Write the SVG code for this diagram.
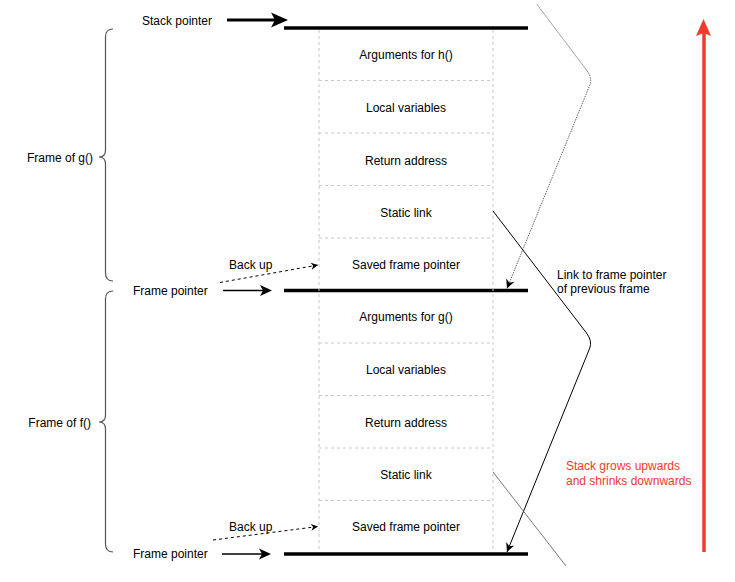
<svg xmlns="http://www.w3.org/2000/svg" width="735" height="582" viewBox="0 0 735 582">
<style>
  text { font-family: "Liberation Sans", Arial, sans-serif; font-size: 12px; fill: #000; }
  .c { text-anchor: middle; }
  .red { fill: #f23a2e; }
  .cell { fill: none; stroke: #c8c8c8; stroke-width: 1; stroke-dasharray: 3 3; }
  .bar { stroke: #000; stroke-width: 3.5; }
  .brace { fill: none; stroke: #555; stroke-width: 1.2; }
</style>
<defs>
  <marker id="ah" viewBox="0 0 10 10" refX="10" refY="5" markerUnits="userSpaceOnUse" markerWidth="10" markerHeight="9" orient="auto">
    <path d="M0,0 L10,5 L0,10 L3,5 z" fill="#000"/>
  </marker>
  <marker id="ahs" viewBox="0 0 10 10" refX="10" refY="5" markerUnits="userSpaceOnUse" markerWidth="8" markerHeight="7" orient="auto">
    <path d="M0,0 L10,5 L0,10 L3,5 z" fill="#000"/>
  </marker>
</defs>

<rect width="735" height="582" fill="#fff"/>

<g id="stack">
  <line class="bar" x1="284" y1="28" x2="528" y2="28"/>
  <line class="bar" x1="284" y1="290.5" x2="528" y2="290.5"/>
  <line class="bar" x1="284" y1="554" x2="528" y2="554"/>
  <line class="cell" x1="319" y1="30" x2="319" y2="552"/>
  <line class="cell" x1="493" y1="30" x2="493" y2="552"/>
  <line class="cell" x1="319" y1="80.5" x2="493" y2="80.5"/>
  <line class="cell" x1="319" y1="133" x2="493" y2="133"/>
  <line class="cell" x1="319" y1="185.5" x2="493" y2="185.5"/>
  <line class="cell" x1="319" y1="238" x2="493" y2="238"/>
  <line class="cell" x1="319" y1="343" x2="493" y2="343"/>
  <line class="cell" x1="319" y1="395.5" x2="493" y2="395.5"/>
  <line class="cell" x1="319" y1="448" x2="493" y2="448"/>
  <line class="cell" x1="319" y1="500.5" x2="493" y2="500.5"/>
</g>

<g id="cell-args-h"><text class="c" x="406" y="59">Arguments for h()</text></g>
<g id="cell-locals-g"><text class="c" x="406" y="112">Local variables</text></g>
<g id="cell-ret-g"><text class="c" x="406" y="164.5">Return address</text></g>
<g id="cell-static-g"><text class="c" x="406" y="216.5">Static link</text></g>
<g id="cell-saved-g"><text class="c" x="406" y="269">Saved frame pointer</text></g>
<g id="cell-args-g"><text class="c" x="406" y="321">Arguments for g()</text></g>
<g id="cell-locals-f"><text class="c" x="406" y="374">Local variables</text></g>
<g id="cell-ret-f"><text class="c" x="406" y="426.5">Return address</text></g>
<g id="cell-static-f"><text class="c" x="406" y="478.5">Static link</text></g>
<g id="cell-saved-f"><text class="c" x="406" y="531">Saved frame pointer</text></g>

<g id="frame-g">
  <path class="brace" d="M113 29 Q105.5 29 105.5 37 L105.5 150 Q105.5 157 99 157 Q105.5 157 105.5 164 L105.5 273 Q105.5 281 113 281"/>
  <text x="93" y="161.5" text-anchor="end">Frame of g()</text>
</g>
<g id="frame-f">
  <path class="brace" d="M113 291 Q105.5 291 105.5 299 L105.5 415 Q105.5 422 99 422 Q105.5 422 105.5 429 L105.5 544 Q105.5 552 113 552"/>
  <text x="91" y="426.5" text-anchor="end">Frame of f()</text>
</g>

<g id="label-sp"><text x="142" y="24.5">Stack pointer</text></g>
<g id="label-fp1"><text x="133" y="295">Frame pointer</text></g>
<g id="label-fp2"><text x="133" y="557.5">Frame pointer</text></g>
<g id="label-backup1"><text x="229" y="269">Back up</text></g>
<g id="label-backup2"><text x="229" y="531">Back up</text></g>
<g id="label-link">
  <text x="557" y="278.5">Link to frame pointer</text>
  <text x="557" y="293">of previous frame</text>
</g>
<g id="label-grow">
  <text class="red" x="566" y="469.5">Stack grows upwards</text>
  <text class="red" x="566" y="484.5">and shrinks downwards</text>
</g>

<g id="connectors">
  <!-- stack pointer arrow -->
  <line x1="227" y1="20" x2="276" y2="20" stroke="#000" stroke-width="3"/>
  <path d="M288 20 L271 12.5 L275 20 L271 27.5 z" fill="#000"/>
  <!-- frame pointer arrows -->
  <line x1="223" y1="290.5" x2="266" y2="290.5" stroke="#000" stroke-width="1.5"/>
  <path d="M272 290.5 L260 285 L263 290.5 L260 296 z" fill="#000"/>
  <line x1="222" y1="554" x2="265" y2="554" stroke="#000" stroke-width="1.5"/>
  <path d="M271 554 L259 548.5 L262 554 L259 559.5 z" fill="#000"/>
  <!-- back up dashed arrows -->
  <line x1="220" y1="282.5" x2="318" y2="265" stroke="#000" stroke-width="1" stroke-dasharray="3 3" marker-end="url(#ahs)"/>
  <line x1="213" y1="540" x2="318" y2="526.5" stroke="#000" stroke-width="1" stroke-dasharray="3 3" marker-end="url(#ahs)"/>
  <!-- links to previous frame -->
  <path d="M537 4.5 L586.5 70 Q592.5 78 589.8 85 L507 288.5" fill="none" stroke="#555" stroke-width="0.9" stroke-dasharray="1.5 1" marker-end="url(#ah)"/>
  <path d="M493 211 L586.5 333 Q592.5 341 589.8 348 L507 552" fill="none" stroke="#000" stroke-width="1" marker-end="url(#ah)"/>
  <line x1="493" y1="472" x2="566" y2="566" stroke="#555" stroke-width="0.8"/>
  <!-- growth arrow -->
  <line x1="704" y1="552" x2="704" y2="32" stroke="#f23a2e" stroke-width="3.5"/>
  <path d="M703.5 19 L711 36 L703.5 33 L696 36 z" fill="#f23a2e"/>
</g>
</svg>
